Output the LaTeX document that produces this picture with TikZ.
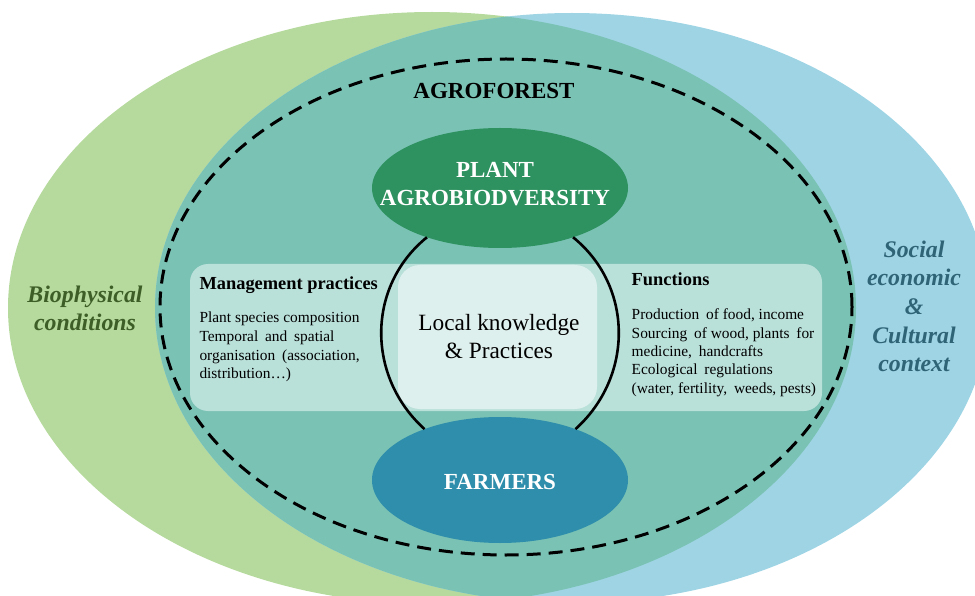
\documentclass[tikz,border=0pt]{standalone}
\usepackage{fontspec}
\setmainfont{Liberation Serif}
\usetikzlibrary{shapes.geometric}
\definecolor{bioGreen}{HTML}{B6DA9D}
\definecolor{socBlue}{HTML}{9ED4E4}
\definecolor{overlapTeal}{HTML}{7AC2B4}
\definecolor{bandFill}{HTML}{BAE0DA}
\definecolor{coreFill}{HTML}{DEF0ED}
\definecolor{plantFill}{HTML}{2E9260}
\definecolor{farmFill}{HTML}{2E8EAB}
\definecolor{bioText}{HTML}{3E5E28}
\definecolor{socText}{HTML}{2E6476}
\newcommand{\wsp}{\hspace{3pt}}
\begin{document}
\begin{tikzpicture}[x=1pt,y=1pt,
  dashline/.style={line width=3pt, dash pattern=on 14pt off 8pt},
  arcline/.style={line width=2.6pt, black},
  bandbox/.style={rectangle, rounded corners=18pt, fill=bandFill, inner sep=0, outer sep=0},
  corebox/.style={rectangle, rounded corners=22pt, fill=coreFill, inner sep=0, outer sep=0},
  ellnode/.style={ellipse, inner sep=0, outer sep=0},
  txt/.style={inner sep=0, outer sep=0, anchor=base},
  txtl/.style={inner sep=0, outer sep=0, anchor=base west},
  bigbold/.style={font=\fontsize{23}{28}\selectfont\bfseries},
  whitebold/.style={bigbold, text=white},
  sidelabel/.style={font=\fontsize{23.8}{28}\selectfont\bfseries\itshape},
  headfont/.style={font=\fontsize{18.4}{21}\selectfont\bfseries},
  bodyfont/.style={font=\fontsize{15.4}{18.7}\selectfont},
  corefont/.style={font=\fontsize{23.3}{27.7}\selectfont}
]
\useasboundingbox (0,0) rectangle (975,-596);
\clip (0,0) rectangle (975,-596);
% outer context ellipses
\fill[bioGreen] (432,-308) ellipse [x radius=424, y radius=296];
\fill[socBlue] (572,-308) ellipse [x radius=417, y radius=295];
\begin{scope}
  \clip (572,-308) ellipse [x radius=417, y radius=295];
  \fill[overlapTeal] (432,-308) ellipse [x radius=424, y radius=296];
\end{scope}
% agroforest boundary
\draw[dashline] (506,-307) ellipse [x radius=346, y radius=248];
% band and core
\node[bandbox, minimum width=632pt, minimum height=147pt] (band) at (506,-337.5) {};
\node[corebox, minimum width=199pt, minimum height=144pt] (core) at (497.5,-337) {};
% main ellipses
\node[ellnode, fill=plantFill, minimum width=256pt, minimum height=120pt] (plant) at (500,-188) {};
\node[ellnode, fill=farmFill, minimum width=256pt, minimum height=126pt] (farmers) at (500,-480) {};
% arcs linking plant and farmers
\draw[arcline] (plant.214) to[out=219, in=138, looseness=1.04] (farmers.146);
\draw[arcline] (plant.326) to[out=321, in=42, looseness=1.04] (farmers.34);
% texts
\node[txt, bigbold] (agro) at (494,-98.3) {AGROFOREST};
\node[txt, whitebold] (plantA) at (495,-177.3) {PLANT};
\node[txt, whitebold] (plantB) at (495,-206) {AGROBIODVERSITY};
\node[txt, whitebold] (farmT) at (500,-489) {FARMERS};
\node[txt, corefont] (coreA) at (499,-330.7) {Local knowledge};
\node[txt, corefont] (coreB) at (499,-358.4) {\& Practices};
\node[txt, sidelabel, text=bioText] (bioA) at (85,-302.3) {Biophysical};
\node[txt, sidelabel, text=bioText] (bioB) at (85,-330.7) {conditions};
\node[txt, sidelabel, text=socText] (socA) at (914,-257.3) {Social};
\node[txt, sidelabel, text=socText] (socB) at (914,-285.7) {economic};
\node[txt, sidelabel, text=socText] (socC) at (914,-314.3) {\&};
\node[txt, sidelabel, text=socText] (socD) at (914,-343.1) {Cultural};
\node[txt, sidelabel, text=socText] (socE) at (914,-371.7) {context};
% management practices
\node[txtl, headfont] (mgH) at (199.5,-289.3) {Management practices};
\node[txtl, bodyfont] (mg1) at (199.5,-322.6) {Plant species composition};
\node[txtl, bodyfont] (mg2) at (199.5,-341.5) {Temporal \wsp and \wsp spatial};
\node[txtl, bodyfont] (mg3) at (199.5,-360.1) {organisation \wsp (association,};
\node[txtl, bodyfont] (mg4) at (199.5,-378.6) {distribution\dots)};
% functions
\node[txtl, headfont] (fnH) at (631.7,-286) {Functions};
\node[txtl, bodyfont] (fn1) at (631.7,-319.3) {Production \wsp of food, income};
\node[txtl, bodyfont] (fn2) at (631.7,-338.1) {Sourcing \wsp of wood, plants \wsp for};
\node[txtl, bodyfont] (fn3) at (631.7,-356.6) {medicine, \wsp handcrafts};
\node[txtl, bodyfont] (fn4) at (631.7,-374.9) {Ecological \wsp regulations};
\node[txtl, bodyfont] (fn5) at (631.7,-393.3) {(water, fertility, \wsp weeds, pests)};
\end{tikzpicture}
\end{document}
